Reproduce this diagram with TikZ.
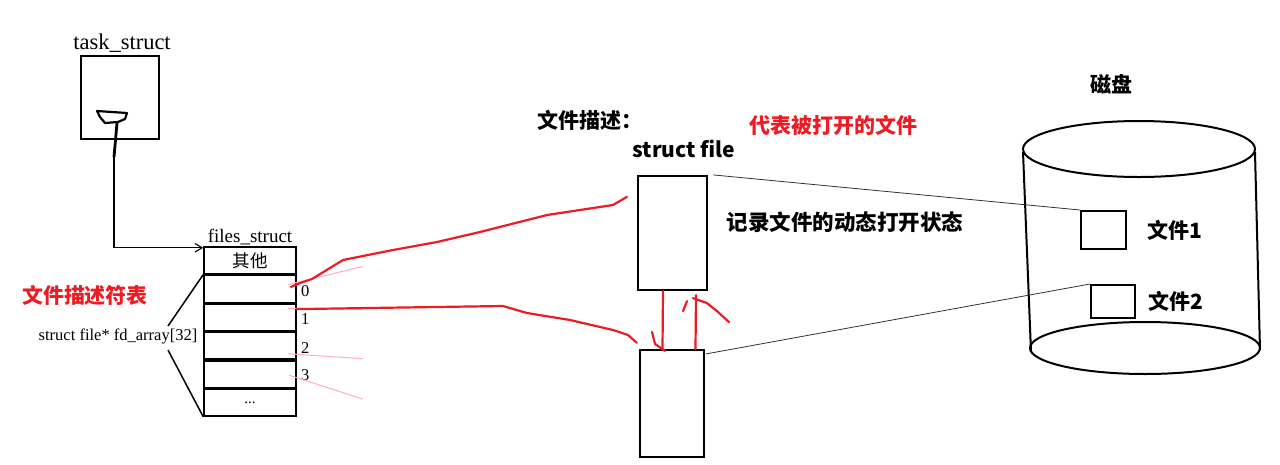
\documentclass[tikz,border=0pt]{standalone}
\usepackage{fontspec}
\setmainfont{Liberation Serif}
\newfontfamily\cjk{Noto Sans CJK SC}
\usetikzlibrary{positioning,arrows.meta,calc}
\definecolor{paintred}{RGB}{237,28,36}
\definecolor{paintpink}{RGB}{255,174,201}

\begin{document}
\begin{tikzpicture}[x=1pt,y=-1pt,
  box/.style={draw,line width=1.7pt,inner sep=0pt},
  slot/.style={draw,line width=1.6pt,minimum width=92pt,minimum height=26.8pt,inner sep=0pt,font=\cjk\fontsize{17.5}{17.5}\selectfont},
  tag/.style={inner sep=0pt,font=\fontsize{19}{19}\selectfont},
  idx/.style={inner sep=0pt,anchor=west,font=\fontsize{16.5}{16.5}\selectfont},
  hei/.style={inner sep=0pt,font=\cjk\bfseries\fontsize{21}{21}\selectfont},
  link/.style={line width=0.8pt,black!80},
  redpen/.style={paintred,line width=2.2pt,line cap=round,line join=round},
  pinkpen/.style={paintpink,line width=1pt},
  ptr/.style={-{Straight Barb[length=2.5mm,width=3mm]},line width=1.1pt},
  node distance=0pt
]
\useasboundingbox (0,0) rectangle (1280,464);

% task_struct
\node[box,minimum width=78pt,minimum height=83pt] (task) at (120,97.5) {};
\node[tag,font=\fontsize{22.5}{22.5}\selectfont] (tasklbl) at (122,43) {task\_struct};
\draw[line width=2.2pt,line join=round] (97,111) -- (127,113) -- (125,119) -- (118,122) -- (105,123) -- (100,117) -- cycle;
\draw[line width=2.8pt] (117,123) -- (114,157);
\coordinate (hook) at (114,157);

% files_struct
\node[slot] (other) at (250,260.5) {其他};
\node[slot,below=of other] (fd0) {};
\node[slot,below=of fd0] (fd1) {};
\node[slot,below=of fd1] (fd2) {};
\node[slot,below=of fd2] (fd3) {};
\node[slot,below=of fd3,font=\fontsize{15}{15}\selectfont] (more) {...};
\node[tag] (fileslbl) at (250,237) {files\_struct};
\draw[ptr] (hook) |- ([yshift=-1.5pt]other.north west);

\node[idx] (n0) at ([xshift=4pt,yshift=-2pt]fd0.east) {0};
\node[idx] (n1) at ([xshift=4pt,yshift=-2pt]fd1.east) {1};
\node[idx] (n2) at ([xshift=4pt,yshift=-2pt]fd2.east) {2};
\node[idx] (n3) at ([xshift=4pt,yshift=-1pt]fd3.east) {3};

% fd_array
\node[tag,font=\fontsize{16.5}{16.5}\selectfont] (fdarr) at (118,336) {struct file* fd\_array[32]};
\node[hei,paintred] (fdtable) at (85,295) {文件描述符表};
\coordinate (brk1) at (168,326);
\coordinate (brk2) at (168,350);
\draw[line width=1.5pt] (fd0.north west) -- (brk1);
\draw[line width=1.5pt] (brk2) -- (more.south west);

% pink strokes
\draw[pinkpen] ([xshift=-9pt,yshift=4.4pt]fd0.east) -- ++(75,-18);
\draw[pinkpen] ([xshift=-9pt,yshift=9pt]fd1.east) -- ++(75,1);
\draw[pinkpen] ([xshift=-9pt,yshift=-8pt]fd2.east) -- ++(75,5);
\draw[pinkpen] ([xshift=-8pt,yshift=-1pt]fd3.east) -- ++(74,24);

% struct file
\node[box,line width=2.2pt,minimum width=69pt,minimum height=114pt] (fileA) at (672.5,233) {};
\node[box,line width=2.2pt,minimum width=64pt,minimum height=107pt] (fileB) at (672,403.5) {};
\node[hei] (desc) at (590,120) {文件描述：};
\node[hei] (sfile) at (684,149) {struct file};
\node[hei,paintred] (opened) at (833,125) {代表被打开的文件};
\node[hei,font=\cjk\bfseries\fontsize{21.5}{21.5}\selectfont] (state) at (845,222) {记录文件的动态打开状态};

% red strokes
\draw[redpen] ([xshift=-6pt,yshift=2pt]fd0.east) -- (300,283) -- (312,279) -- (343,260) -- (393,250)
  -- (437,242) -- (480,232) -- (547,215) -- (613,205) -- ([xshift=-10pt,yshift=-22pt]fileA.north west);
\draw[redpen] ([yshift=-6pt]fd1.north east) -- (503,306) -- (527,313) -- (570,320) -- (613,330)
  -- (628,335) -- ([xshift=-2pt,yshift=6pt]fileB.north west);
\draw[redpen] ([xshift=-9.5pt]fileA.south) -- ([xshift=-9.5pt]fileB.north);
\draw[redpen] ([xshift=-20pt,yshift=17pt]fileB.north) -- ++(3,12) -- ++(10,7);
\draw[redpen] ([xshift=23.5pt]fileB.north) -- ([xshift=23.5pt,yshift=-4pt]fileA.south);
\draw[redpen] ([xshift=10.5pt,yshift=-20pt]fileA.south) -- ++(4,-10);
\draw[redpen] ([xshift=20.5pt,yshift=-7pt]fileA.south) -- ++(14,5) -- ++(10,8) -- ++(12,11);

% disk
\node[hei] (disk) at (1111,84) {磁盘};
\draw[line width=2pt] (1139,149) ellipse [x radius=116pt,y radius=28pt];
\draw[line width=2pt] (1023,152) -- (1031,352);
\draw[line width=2pt] (1255,152) -- (1260,350);
\draw[line width=2pt] (1145,348) ellipse [x radius=115pt,y radius=26pt];
\node[box,line width=2pt,minimum width=45pt,minimum height=38pt] (disk1) at (1103.5,230) {};
\node[box,line width=2pt,minimum width=44pt,minimum height=33pt] (disk2) at (1113,301.5) {};
\node[hei,right=20pt of disk1] (f1) {文件1};
\node[hei,right=12pt of disk2] (f2) {文件2};

\draw[link] ([xshift=5pt]fileA.north east) -- (disk1.north west);
\draw[link] ([xshift=1pt,yshift=-5pt]fileB.north east) -- (disk2.north west);
\end{tikzpicture}
\end{document}
